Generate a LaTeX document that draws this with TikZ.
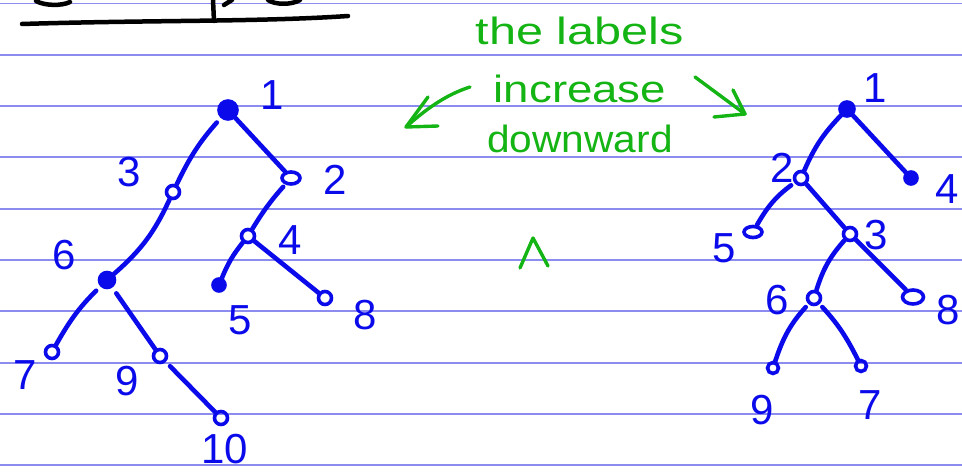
\documentclass[tikz,border=0pt]{standalone}
\usepackage{fontspec}
\setmainfont{Liberation Sans}
\usetikzlibrary{arrows.meta,shapes.geometric}
\definecolor{ink}{RGB}{10,10,235}
\definecolor{rule}{RGB}{140,140,240}
\definecolor{pen}{RGB}{20,180,20}
\tikzset{
  nd/.style={circle,draw=ink,line width=3.6pt,minimum size=13pt,inner sep=0pt},
  ndf/.style={nd,fill=ink},
  edge/.style={draw=ink,line width=4.6pt,line cap=round},
  lbl/.style={text=ink,font=\fontsize{42}{42}\selectfont,inner sep=0pt},
  note/.style={text=pen,font=\fontsize{38}{38}\selectfont,inner sep=0pt},
  gline/.style={draw=pen,line width=3.4pt,line cap=round,line join=round},
}
\begin{document}
\begin{tikzpicture}[x=1pt,y=-1pt]
\useasboundingbox (0,0) rectangle (962,473);
\clip (0,0) rectangle (962,473);
% ruled lines
\foreach \k in {0,...,9} {
  \draw[rule,line width=1.8pt] (0,{3.5+51.3*\k}) -- (962,{3.5+51.3*\k});
}
% title remnants
\draw[black,line width=4.5pt,line cap=round] (22,24) .. controls (150,20) and (260,22) .. (348,16);
\draw[black,line width=4.5pt,line cap=round] (213,0) -- (214,21);
\draw[black,line width=4.5pt,line cap=round] (36,1) .. controls (45,6) and (62,6) .. (70,2);
\draw[black,line width=4.5pt,line cap=round] (224,5) -- (232,0);
\draw[black,line width=4.5pt,line cap=round] (268,0) .. controls (275,5) and (292,5) .. (300,0);

% ---------- left tree ----------
\node[ndf,minimum size=18pt] (L1) at (228,110) {};
\node[nd] (L3) at (173,192) {};
\node[nd,ellipse,minimum width=18pt,minimum height=12pt] (L2) at (291,178) {};
\node[nd] (L4) at (248,236) {};
\node[ndf,minimum size=15pt] (L6) at (107,280) {};
\node[ndf,minimum size=12pt] (L5) at (219,285) {};
\node[nd] (L8) at (325,298) {};
\node[nd] (L7) at (52,352) {};
\node[nd] (L9) at (160,356) {};
\node[nd] (L10) at (221,418) {};

\path[edge] (L1) edge[shorten <=6pt,bend right=8] (L3);
\path[edge] (L1) edge (L2);
\path[edge] (L3) edge[bend left=12] (L6);
\path[edge] (L2) edge[shorten <=3pt,bend right=5] (L4);
\path[edge] (L4) edge[bend right=8] (L5);
\path[edge] (L4) edge (L8);
\path[edge] (L6) edge[shorten <=6pt,bend right=8] (L7);
\path[edge] (L6) edge[shorten <=7pt] (L9);
\path[edge] (L9) edge[shorten <=6pt] (L10);

\node[lbl] (tL1) at (272,95) {1};
\node[lbl] (tL3) at (129,172) {3};
\node[lbl] (tL2) at (335,180) {2};
\node[lbl] (tL4) at (290,240) {4};
\node[lbl] (tL6) at (64,255) {6};
\node[lbl] (tL5) at (240,320) {5};
\node[lbl] (tL8) at (365,315) {8};
\node[lbl] (tL7) at (25,375) {7};
\node[lbl] (tL9) at (127,381) {9};
\node[lbl] (tL10) at (225,449) {10};

% ---------- right tree ----------
\node[ndf,minimum size=14pt] (R1) at (847,109) {};
\node[nd] (R2) at (801,178) {};
\node[ndf,minimum size=12pt] (R4) at (911,178) {};
\node[nd,ellipse,minimum width=18pt,minimum height=11pt] (R5) at (753,232) {};
\node[nd] (R3) at (850,234) {};
\node[nd] (R6) at (814,298) {};
\node[nd,ellipse,minimum width=21pt,minimum height=14pt] (R8) at (913,297) {};
\node[nd,minimum size=11pt] (R9) at (773,368) {};
\node[nd,minimum size=11pt] (R7) at (861,366) {};

\path[edge] (R1) edge[bend right=10] (R2);
\path[edge] (R1) edge (R4);
\path[edge] (R2) edge[shorten <=4pt,bend right=12] (R5);
\path[edge] (R2) edge (R3);
\path[edge] (R3) edge[bend right=12] (R6);
\path[edge] (R3) edge (R8);
\path[edge] (R6) edge[shorten <=4pt,bend right=12] (R9);
\path[edge] (R6) edge[shorten <=4pt,bend left=8] (R7);

\node[lbl] (tR1) at (875,88) {1};
\node[lbl] (tR2) at (782,168) {2};
\node[lbl] (tR4) at (947,189) {4};
\node[lbl] (tR5) at (724,248) {5};
\node[lbl] (tR3) at (876,235) {3};
\node[lbl] (tR6) at (777,300) {6};
\node[lbl] (tR8) at (948,310) {8};
\node[lbl] (tR9) at (762,410) {9};
\node[lbl] (tR7) at (870,405) {7};

% ---------- green notes ----------
\node[note,anchor=base] (n1) at (580,45) {\scalebox{1.28}[1]{the labels}};
\node[note,anchor=base] (n2) at (580,103) {\scalebox{1.2}[1]{increase}};
\node[note,anchor=base] (n3) at (580,153) {\scalebox{1.07}[1]{downward}};

\coordinate (la0) at (470,87);
\coordinate (la1) at (406,127);
\draw[gline] (la0) .. controls (445,95) and (425,110) .. (la1);
\draw[gline] (428,97) -- (la1) -- (438,126);
\coordinate (ra0) at (695,77);
\coordinate (ra1) at (745,114);
\draw[gline] (ra0) -- (ra1);
\draw[gline] (733,90) -- (ra1) -- (714,117);
\draw[gline] (520,268) -- (533,238) -- (548,266);
\end{tikzpicture}
\end{document}
